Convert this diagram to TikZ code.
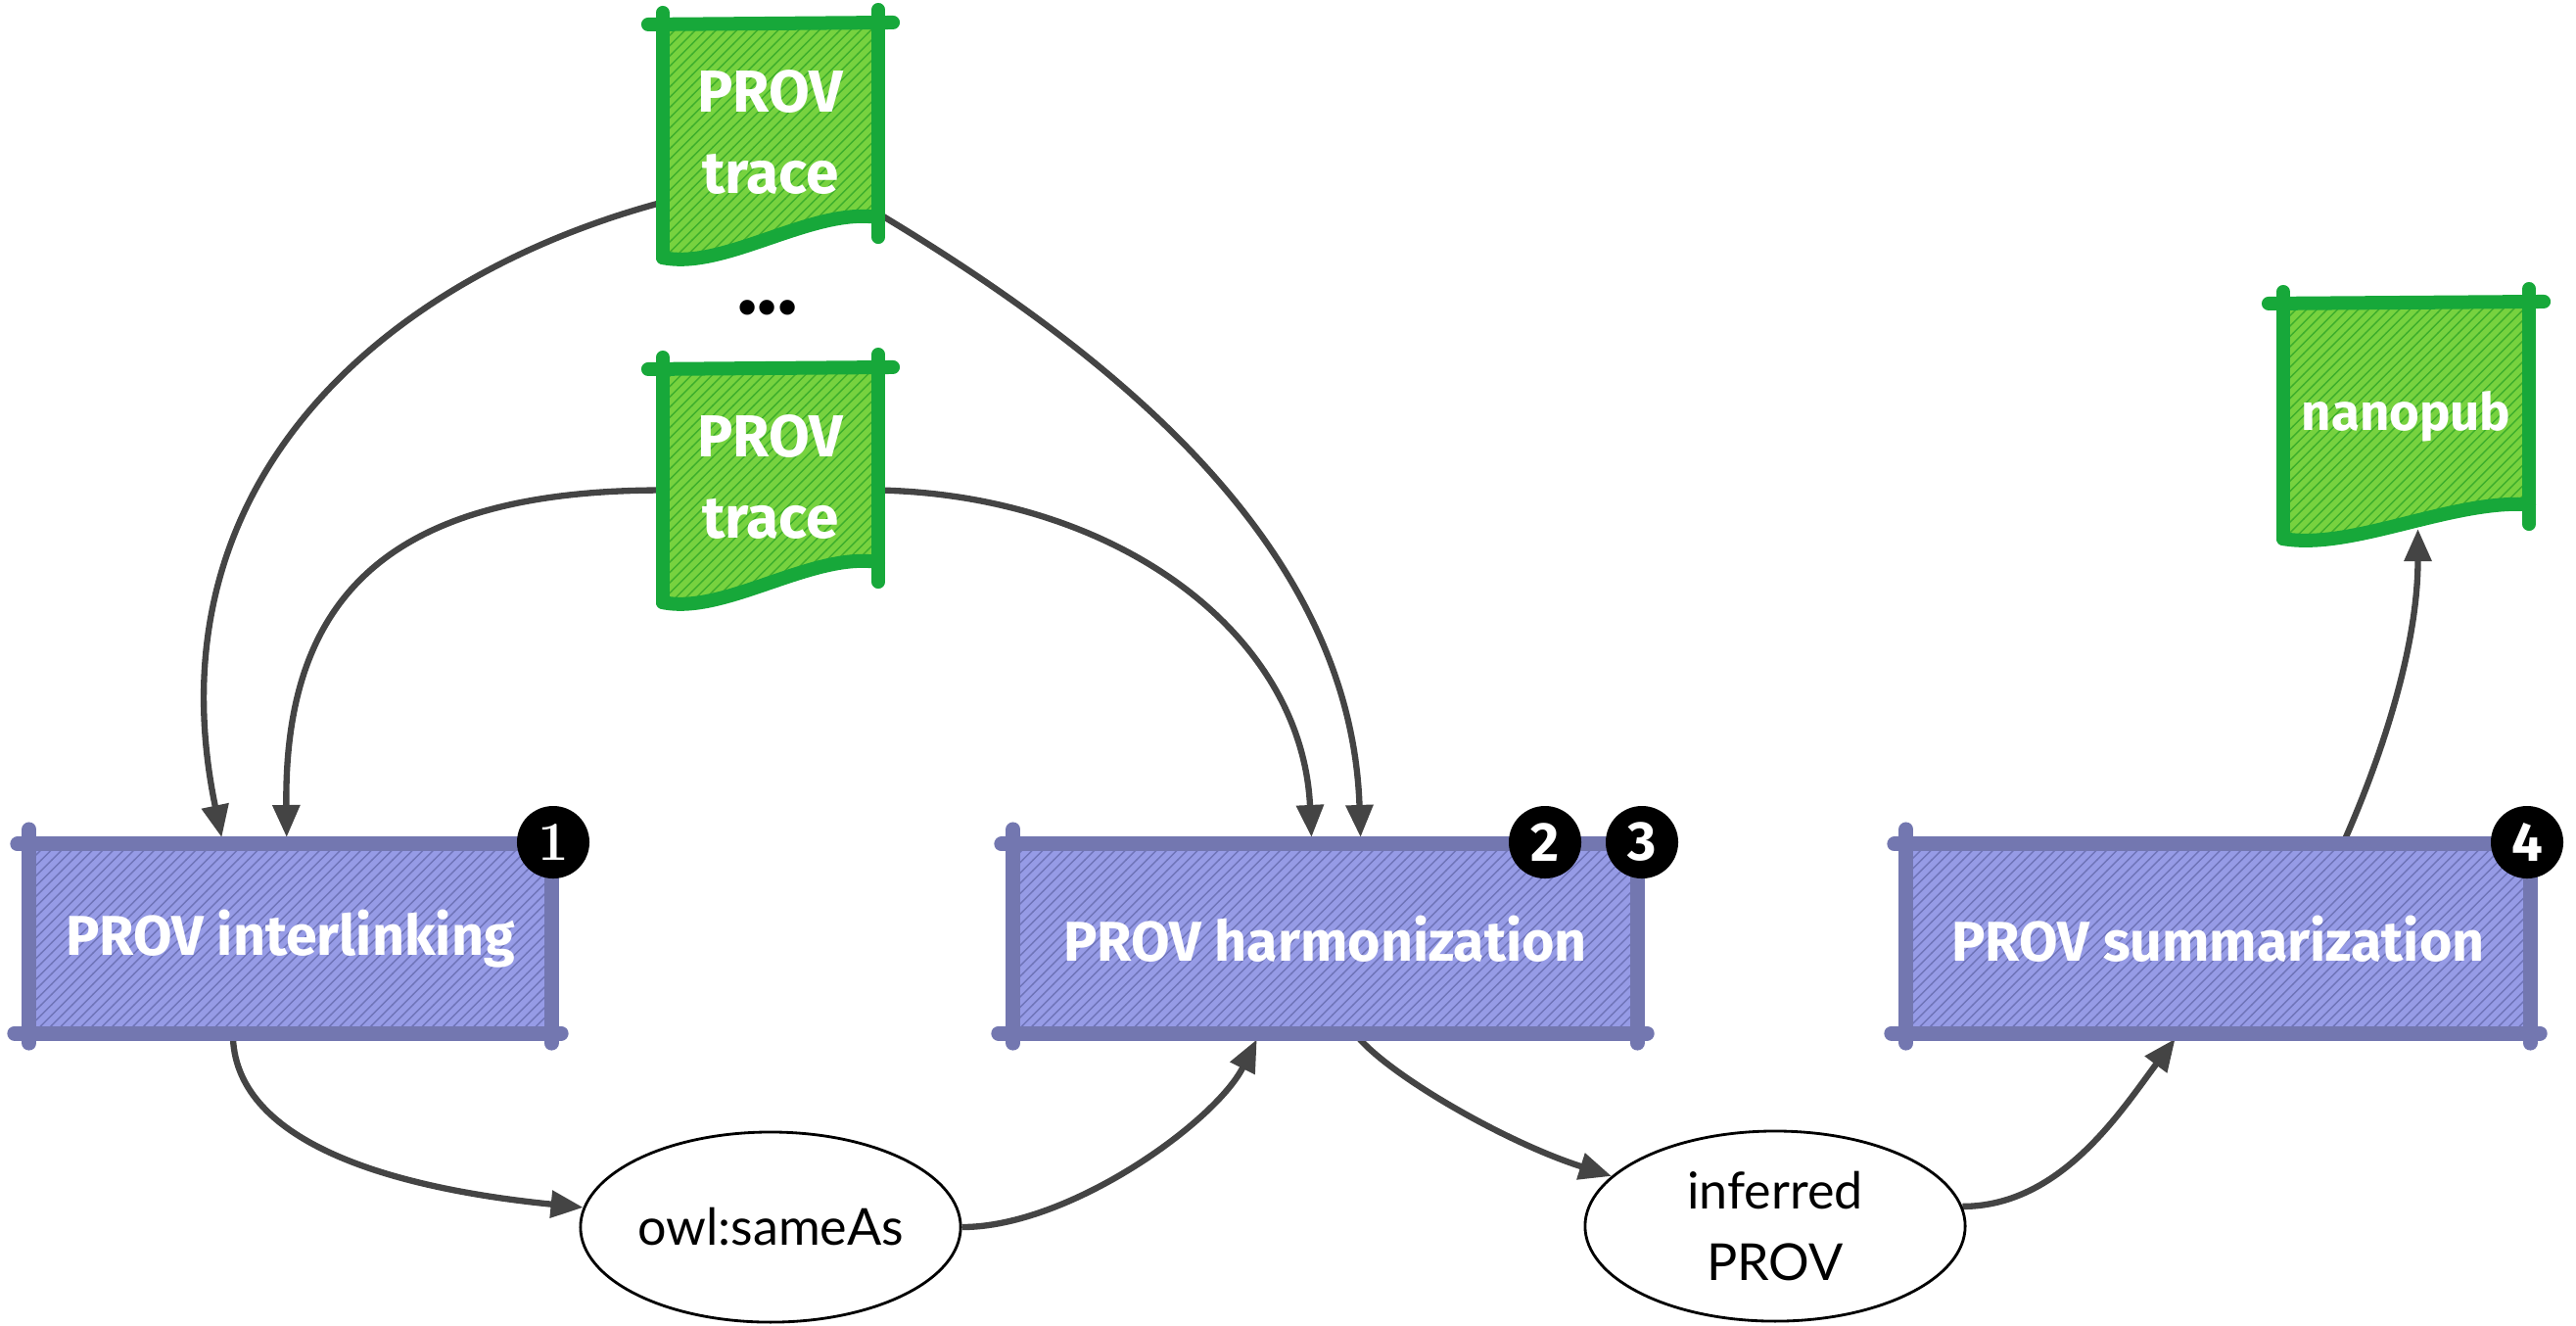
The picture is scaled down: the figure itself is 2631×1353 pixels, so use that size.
\documentclass[tikz,border=0pt]{standalone}
\usepackage{fontspec}
\setmainfont{Fira Sans}
\newfontfamily\latofont{Lato}
\newfontfamily\lmfont{Latin Modern Roman}
\usetikzlibrary{patterns,calc,arrows.meta,shapes.geometric}
\pgfdeclarelayer{connlayer}
\pgfdeclarelayer{shapelayer}
\pgfsetlayers{connlayer,shapelayer,main}

\definecolor{boxfill}{HTML}{969BE6}
\definecolor{boxhatch}{HTML}{6F74B8}
\definecolor{boxborder}{HTML}{7377B0}
\definecolor{docfill}{HTML}{77D23F}
\definecolor{dochatch}{HTML}{3DAE2C}
\definecolor{docborder}{HTML}{17A83A}
\definecolor{conncol}{HTML}{444444}

\tikzset{
  procbox/.style={rectangle, inner sep=0pt, outer sep=0pt, minimum height=1.93cm,
    preaction={fill=boxfill}, pattern=north east lines, pattern color=boxhatch,
    text=white, font=\bfseries\fontsize{16.3}{19}\selectfont},
  boxline/.style={draw=boxborder, line width=0.15cm, line cap=round},
  docnode/.style={rectangle, inner sep=0pt, outer sep=0pt, text=white, align=center,
    font=\bfseries\fontsize{17.2}{23.5}\selectfont},
  docline/.style={draw=docborder, line width=0.14cm, line cap=round, line join=round},
  badge/.style={circle, fill=black, minimum size=0.74cm, inner sep=0pt, text=white,
    font=\bfseries\fontsize{16}{16}\selectfont},
  datanode/.style={ellipse, draw=black, line width=0.8pt, minimum width=3.88cm,
    minimum height=1.94cm, inner sep=0pt, align=center,
    font=\latofont\fontsize{14.8}{21}\selectfont},
  conn/.style={draw=conncol, line width=1.8pt, -{Triangle[length=0.33cm,width=0.27cm]}},
  tipgap/.style={shorten >=0.07cm}
}

\newcommand{\sketchrect}[1]{%
  \draw[boxline] ($(#1.north west)+(-12,0)$) -- (#1.north east);
  \draw[boxline] ($(#1.north west)+(0,-15)$) -- ($(#1.south west)+(0,10)$);
  \draw[boxline] ($(#1.south west)+(-15,0)$) -- ($(#1.south east)+(10,0)$);
  \draw[boxline] (#1.north east) -- ($(#1.south east)+(0,10)$);
}

\newcommand{\docshape}[5]{%
  \begin{pgfonlayer}{shapelayer}
    \coordinate (#1-sw) at ($(#1.south west)+(0,#2)$);
    \coordinate (#1-se) at ($(#1.south east)+(0,#3)$);
    \path[fill=docfill, postaction={pattern=north east lines, pattern color=dochatch}]
      (#1.north west) -- (#1.north east) -- (#1-se) .. controls +#5 and +#4 .. (#1-sw) -- cycle;
    \draw[docline] ($(#1.north west)+(-15,0)$) -- ($(#1.north east)+(15,-2)$);
    \draw[docline] ($(#1.north east)+(0,-15)$) -- ($(#1-se)+(0,20)$);
    \draw[docline] ($(#1.north west)+(0,-12)$) -- (#1-sw);
    \draw[docline] (#1-sw) .. controls +#4 and +#5 .. (#1-se);
  \end{pgfonlayer}}

\begin{document}
\begin{tikzpicture}[x=0.01cm, y=-0.01cm]
\useasboundingbox (0,0) rectangle (2631,1353);

% documents
\node[docnode, minimum width=2.2cm, minimum height=2.2cm] (t1) at (787,135) {PROV\\trace};
\docshape{t1}{18}{-23}{(63,13)}{(-67,-11)}
\node[docnode, minimum width=2.2cm, minimum height=2.2cm] (t2) at (787,487) {PROV\\trace};
\docshape{t2}{18}{-23}{(63,13)}{(-67,-11)}
\node[docnode, minimum width=2.51cm, minimum height=2.3cm, font=\bfseries\fontsize{15}{18}\selectfont] (np) at (2457.5,425) {nanopub};
\docshape{np}{10}{-25}{(70,12)}{(-80,-5)}

\node[font=\bfseries\fontsize{24}{24}\selectfont] (dots) at (784,314) {...};

% process boxes
\node[procbox, minimum width=5.33cm] (b1) at (296.5,958.5) {PROV interlinking};
\node[procbox, minimum width=6.37cm] (b2) at (1353.5,958.5) {PROV harmonization};
\node[procbox, minimum width=6.37cm] (b3) at (2265.5,958.5) {PROV summarization};
\sketchrect{b1}
\sketchrect{b2}
\sketchrect{b3}

% badges
\node[badge] (n1) at (565,860) {\lmfont\bfseries 1};
\node[badge] (n2) at (1578,860) {2};
\node[badge] (n3) at (1677,860) {3};
\node[badge] (n4) at (2581,860) {4};

% data ellipses
\node[datanode] (o) at (787,1253) {owl:sameAs};
\node[datanode] (i) at (1813,1252) {inferred\\PROV};

% connectors
\begin{pgfonlayer}{connlayer}
\draw[conn, tipgap] (t1.213) .. controls +(-277,74) and +(-78,-375) .. ($(b1.north west)+(198,0)$);
\draw[conn, tipgap] (t2.187) .. controls +(-277,0) and +(-3,-255) .. ($(b1.north west)+(263,0)$);
\draw[conn, tipgap] (t1.-37) .. controls +(250,150) and +(-10,-300) .. ($(b2.north west)+(355,0)$);
\draw[conn, tipgap] (t2.-7) .. controls +(244,5) and +(-10,-215) .. ($(b2.north west)+(305,0)$);
\draw[conn] ($(b1.south west)+(208,0)$) .. controls +(0,110) and +(-200,-20) .. (o.174);
\draw[conn, tipgap] (o.east) .. controls +(110,0) and +(-45,90) .. ($(b2.south west)+(252,0)$);
\draw[conn] ($(b2.south west)+(349,0)$) .. controls +(30,40) and +(-110,-35) .. (i.163);
\draw[conn, tipgap] (i.6) .. controls +(100,0) and +(-60,80) .. ($(b3.south west)+(279,0)$);
\draw[conn] ($(b3.north west)+(446,0)$) .. controls +(40,-90) and +(0,120) .. ($(np.south)+(12,0)$);
\end{pgfonlayer}
\end{tikzpicture}
\end{document}
